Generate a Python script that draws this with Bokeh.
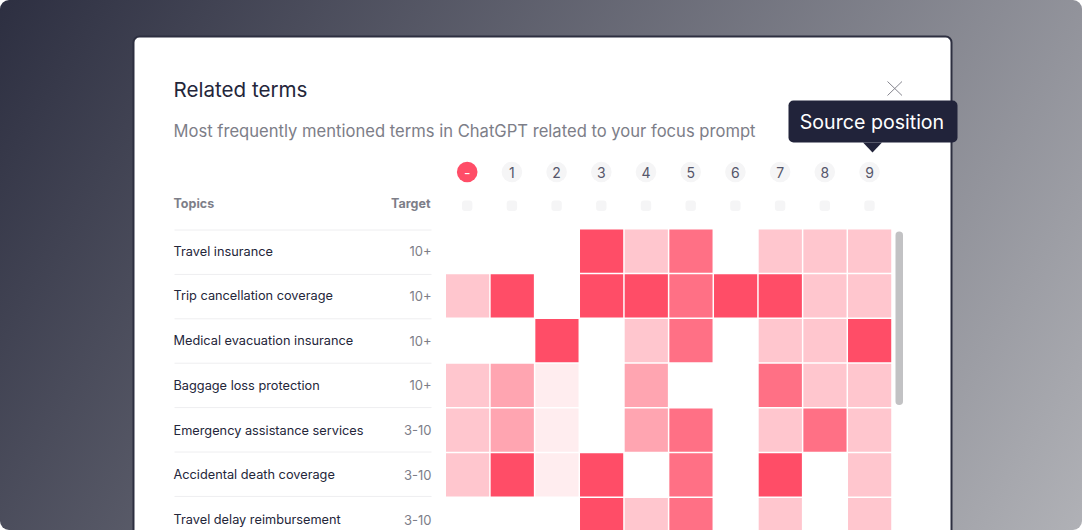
import numpy as np
from bokeh.core.properties import value
from bokeh.embed import file_html
from bokeh.resources import INLINE
from bokeh.plotting import figure
from bokeh.models import Range1d, BoxAnnotation, ColumnDataSource

topics = ["Travel insurance", "Trip cancellation coverage", "Medical evacuation insurance",
          "Baggage loss protection", "Emergency assistance services", "Accidental death coverage",
          "Travel delay reimbursement"]
targets = ["10+", "10+", "10+", "10+", "3-10", "3-10", "3-10"]
positions = ["-", "1", "2", "3", "4", "5", "6", "7", "8", "9"]
row_travel = [0, 0, 0, 5, 2, 4, 0, 2, 2, 2]
row_trip = [2, 5, 0, 5, 5, 4, 5, 5, 2, 2]
row_medical = [0, 0, 5, 0, 2, 4, 0, 2, 2, 5]
row_baggage = [2, 3, 1, 0, 3, 0, 0, 4, 2, 2]
row_emergency = [2, 3, 1, 0, 3, 4, 0, 2, 4, 2]
row_accident = [2, 5, 1, 5, 0, 4, 0, 5, 0, 2]
row_delay = [0, 0, 0, 5, 2, 4, 0, 2, 0, 2]
levels = [row_travel, row_trip, row_medical, row_baggage, row_emergency, row_accident, row_delay]
palette = {1: "#FFEDEF", 2: "#FFC6CE", 3: "#FFA5B1", 4: "#FF7085", 5: "#FF4D67"}

FONT = value("Inter")
W, H = 1082, 530
p = figure(width=W, height=H, x_range=Range1d(0, W), y_range=Range1d(H, 0),
           toolbar_location=None, output_backend="svg", min_border=0,
           outline_line_color=None, background_fill_alpha=0, border_fill_alpha=0,
           styles={"position": "absolute", "left": "0", "top": "0", "border-radius": "9px", "overflow": "hidden",
                   "background": "linear-gradient(122deg, #2D2F41 0%, #B0B1B6 100%)"})
p.axis.visible = False
p.grid.visible = False

# card
p.add_layout(BoxAnnotation(left=133, right=951, top=36, bottom=560, fill_color="white", fill_alpha=1,
                           line_color="#2D2F40", line_width=2, line_alpha=1, border_radius=6, level="underlay"))

def label(x, y, txt, size, color, align="left", style="normal"):
    p.text([x], [y], text=[txt], text_font=FONT, text_font_size=f"{size}px", text_color=color,
           text_align=align, text_baseline="middle", text_font_style=style, level="overlay")

label(173, 88.5, "Related terms", 20.6, "#24263A")
label(173, 130.5, "Most frequently mentioned terms in ChatGPT related to your focus prompt", 16.6, "#7D7E88")
label(173, 203, "Topics", 12.5, "#7D7E88", style="bold")
label(430, 203, "Target", 12.5, "#7D7E88", "right", "bold")

# table
ROW0, STEP, COLSTEP = 229, 44.75, 44.67
row_y = [ROW0 + i * STEP for i in range(len(topics))]
line_y = [229.5 + i * 44.4 for i in range(len(topics))]
p.segment(x0=[174] * len(line_y), x1=[431] * len(line_y), y0=line_y, y1=line_y,
          line_color="#EEEEF0", line_width=1)
p.text(x=[173] * len(topics), y=[y + 21.5 for y in row_y], text=topics, text_font=FONT, text_font_size="12.75px",
       text_color="#24263A", text_baseline="middle")
p.text(x=[431] * len(topics), y=[y + 21.5 for y in row_y], text=targets, text_font=FONT, text_font_size="13px",
       text_color="#7D7E88", text_baseline="middle", text_align="right")

# heatmap
COL0 = 445.5
CELL = 43.2
xs, ys, cols = [], [], []
for r, row in enumerate(levels):
    for c, v in enumerate(row):
        if v:
            xs.append(COL0 + c * COLSTEP + CELL / 2)
            ys.append(ROW0 + r * STEP + CELL / 2)
            cols.append(palette[v])
p.rect(x="x", y="y", width=CELL, height=CELL, fill_color="c", line_color=None,
       source=ColumnDataSource(dict(x=xs, y=ys, c=cols)))

# header markers
hx = [466.7 + i * 44.7 for i in range(len(positions))]
hc = ["#FF4D67"] + ["#F5F5F6"] * (len(positions) - 1)
tc = ["white"] + ["#55566A"] * (len(positions) - 1)
p.circle(x=hx, y=[171.5] * len(hx), radius=10.3, fill_color=hc, line_color=None)
p.text(x=hx, y=[171.5] * len(hx), text=positions, text_font=FONT, text_font_size="14px", text_color=tc,
       text_align="center", text_baseline="middle")
for x in hx:
    p.add_layout(BoxAnnotation(left=x - 5.2, right=x + 5.2, top=200, bottom=210.5, fill_color="#F5F5F6", fill_alpha=1,
                               line_color=None, border_radius=3))

# scrollbar
p.add_layout(BoxAnnotation(left=895, right=902.5, top=231, bottom=404.5, fill_color="#C2C2C4", fill_alpha=1,
                           line_color=None, border_radius=4))

# close icon
p.segment(x0=[887, 887], y0=[81, 95], x1=[901.5, 901.5], y1=[95, 81], line_color="#85858E", line_width=1)

# tooltip
p.add_layout(BoxAnnotation(left=788, right=957, top=100, bottom=142, fill_color="#21233A", fill_alpha=1,
                           line_color=None, border_radius=5))
p.patch(x=[862.5, 881.5, 872], y=[142, 142, 152], fill_color="#21233A", line_color=None)
label(871.5, 121.5, "Source position", 19.6, "#FFFFFF", "center")

open("out.html", "w").write(file_html(p, INLINE))
